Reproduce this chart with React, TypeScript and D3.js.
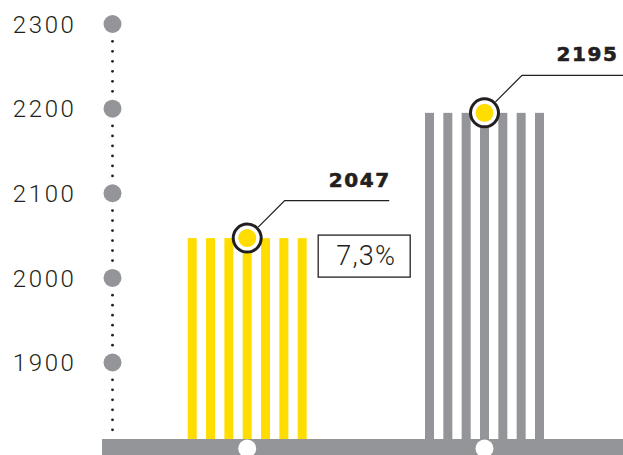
import React from "react";
import * as d3 from "d3";

const categories = ["previous", "current"];
const values = [2047, 2195];
const barColors = ["#FFDD00", "#939598"];
const tickValues = [1900, 2000, 2100, 2200, 2300];
const growthLabel = "7,3%";

const W = 623;
const H = 455;
const GRAY = "#939598";
const DARK = "#231F20";

export default function App() {
  const baseY = 439;
  const y = d3.scaleLinear().domain([1900, 2300]).range([362.5, 24]);
  const x = d3.scalePoint<string>().domain(categories).range([247.2, 484.5]);
  const stripeCount = 7;
  const stripeW = 9;
  const period = 18.33;
  const axisX = 112.5;
  const step = y(tickValues[0]) - y(tickValues[0] + 100);

  const dots: number[] = [];
  tickValues.forEach((t) => {
    const mid = y(t) + step / 2;
    for (let k = 0; k < 6; k++) dots.push(mid + (k - 2.5) * 10);
  });

  const firstRight = (x(categories[0]) as number) + ((stripeCount - 1) / 2) * period + stripeW / 2;

  return (
    <svg width={W} height={H} style={{ position: "absolute", left: 0, top: 0 }}>
      {/* axis dots */}
      {dots.map((d, i) => (
        <circle key={"d" + i} cx={axisX} cy={d} r={1.4} fill={DARK} />
      ))}
      {/* ticks */}
      {tickValues.map((t) => (
        <g key={t}>
          <circle cx={axisX} cy={y(t)} r={9} fill={GRAY} />
          <text
            x={76.5}
            y={y(t) + 8.7}
            textAnchor="end"
            fontFamily="Roboto, 'DejaVu Sans', sans-serif"
            fontWeight={300}
            fontSize={24}
            letterSpacing={2.6}
            fill={DARK}
          >
            {t}
          </text>
        </g>
      ))}
      {/* bars as stripes */}
      {categories.map((c, ci) => {
        const cx = x(c) as number;
        const top = y(values[ci]);
        return (
          <g key={c}>
            {d3.range(stripeCount).map((i) => (
              <rect
                key={i}
                x={cx - stripeW / 2 + (i - (stripeCount - 1) / 2) * period}
                y={top}
                width={stripeW}
                height={baseY - top}
                fill={barColors[ci]}
              />
            ))}
          </g>
        );
      })}
      {/* baseline bar */}
      <rect x={102} y={baseY} width={W - 102} height={H - baseY} fill={GRAY} />
      {categories.map((c) => (
        <circle key={"b" + c} cx={x(c) as number} cy={448.5} r={9} fill="#fff" />
      ))}
      {/* markers + leaders + labels */}
      {categories.map((c, ci) => {
        const cx = x(c) as number;
        const cy = y(values[ci]);
        const r = 14;
        const d = 37.5;
        const lineEnd = cx + 142;
        const sx = cx + (r + 1.5) * Math.SQRT1_2;
        const sy = cy - (r + 1.5) * Math.SQRT1_2;
        return (
          <g key={"m" + c}>
            <path
              d={`M${sx},${sy}L${cx + d},${cy - d}L${lineEnd},${cy - d}`}
              fill="none"
              stroke={DARK}
              strokeWidth={1.3}
            />
            <circle cx={cx} cy={cy} r={r} fill="#fff" stroke={DARK} strokeWidth={3} />
            <circle cx={cx} cy={cy} r={9} fill="#FFDD00" />
            <text
              x={Math.min(lineEnd, W - 6) + 1.6}
              y={cy - d - 14}
              textAnchor="end"
              fontFamily="'DejaVu Sans', sans-serif"
              fontWeight="bold"
              fontSize={20}
              letterSpacing={1.6}
              stroke={DARK}
              strokeWidth={0.6}
              fill={DARK}
            >
              {values[ci]}
            </text>
          </g>
        );
      })}
      {/* growth box */}
      <rect
        x={firstRight + 11.5}
        y={y(values[0]) - 3}
        width={92}
        height={42}
        fill="#fff"
        stroke={DARK}
        strokeWidth={1.3}
      />
      <text
        x={firstRight + 11.5 + 48}
        y={y(values[0]) + 26.5}
        textAnchor="middle"
        fontFamily="Roboto, 'DejaVu Sans', sans-serif"
        fontWeight={300}
        fontSize={27}
        letterSpacing={1.2}
        fill={DARK}
      >
        {growthLabel}
      </text>
    </svg>
  );
}
